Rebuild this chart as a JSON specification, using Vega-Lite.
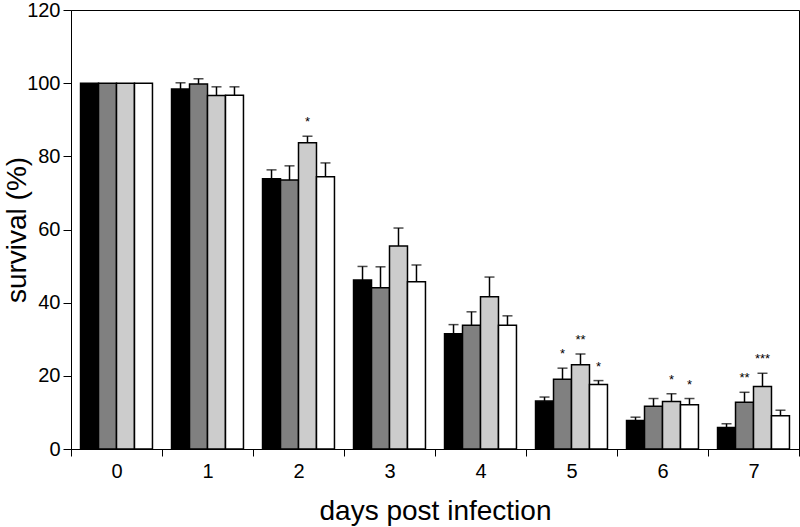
{
  "$schema": "https://vega.github.io/schema/vega-lite/v6.json",
  "width": 728,
  "height": 439,
  "autosize": {"type": "none"},
  "padding": {"left": 71, "top": 10, "right": 1, "bottom": 78},
  "background": "white",
  "config": {
    "view": {"stroke": "black", "strokeWidth": 1},
    "font": "Liberation Sans",
    "axis": {"grid": false, "domainColor": "black", "tickColor": "black", "labelColor": "black", "titleColor": "black", "titleFontWeight": "normal", "labelFont": "Liberation Sans", "titleFont": "Liberation Sans"}
  },
  "data": {
    "values": [
      {"day": "0", "group": "a", "value": 100, "err": 100, "sig": ""},
      {"day": "0", "group": "b", "value": 100, "err": 100, "sig": ""},
      {"day": "0", "group": "c", "value": 100, "err": 100, "sig": ""},
      {"day": "0", "group": "d", "value": 100, "err": 100, "sig": ""},
      {"day": "1", "group": "a", "value": 98.4, "err": 100.1, "sig": ""},
      {"day": "1", "group": "b", "value": 99.8, "err": 101.2, "sig": ""},
      {"day": "1", "group": "c", "value": 96.6, "err": 99.0, "sig": ""},
      {"day": "1", "group": "d", "value": 96.7, "err": 99.0, "sig": ""},
      {"day": "2", "group": "a", "value": 73.9, "err": 76.3, "sig": ""},
      {"day": "2", "group": "b", "value": 73.5, "err": 77.4, "sig": ""},
      {"day": "2", "group": "c", "value": 83.7, "err": 85.5, "sig": "*"},
      {"day": "2", "group": "d", "value": 74.4, "err": 78.2, "sig": ""},
      {"day": "3", "group": "a", "value": 46.2, "err": 49.9, "sig": ""},
      {"day": "3", "group": "b", "value": 44.1, "err": 49.8, "sig": ""},
      {"day": "3", "group": "c", "value": 55.5, "err": 60.4, "sig": ""},
      {"day": "3", "group": "d", "value": 45.7, "err": 50.3, "sig": ""},
      {"day": "4", "group": "a", "value": 31.5, "err": 34.0, "sig": ""},
      {"day": "4", "group": "b", "value": 33.8, "err": 37.5, "sig": ""},
      {"day": "4", "group": "c", "value": 41.6, "err": 47.0, "sig": ""},
      {"day": "4", "group": "d", "value": 33.8, "err": 36.4, "sig": ""},
      {"day": "5", "group": "a", "value": 13.1, "err": 14.2, "sig": ""},
      {"day": "5", "group": "b", "value": 19.1, "err": 22.1, "sig": "*"},
      {"day": "5", "group": "c", "value": 23.0, "err": 26.0, "sig": "**"},
      {"day": "5", "group": "d", "value": 17.6, "err": 18.7, "sig": "*"},
      {"day": "6", "group": "a", "value": 7.8, "err": 8.7, "sig": ""},
      {"day": "6", "group": "b", "value": 11.7, "err": 13.8, "sig": ""},
      {"day": "6", "group": "c", "value": 13.0, "err": 15.1, "sig": "*"},
      {"day": "6", "group": "d", "value": 12.1, "err": 13.8, "sig": "*"},
      {"day": "7", "group": "a", "value": 5.9, "err": 6.9, "sig": ""},
      {"day": "7", "group": "b", "value": 12.8, "err": 15.5, "sig": "**"},
      {"day": "7", "group": "c", "value": 17.1, "err": 20.7, "sig": "***"},
      {"day": "7", "group": "d", "value": 9.1, "err": 10.6, "sig": ""}
    ]
  },
  "encoding": {
    "x": {
      "field": "day", "type": "nominal", "sort": null,
      "scale": {"paddingInner": 0, "paddingOuter": 0},
      "axis": {"title": "days post infection", "labelAngle": 0, "tickBand": "extent", "tickSize": 7, "labelFontSize": 20, "labelPadding": 5, "titleFontSize": 28, "titlePadding": 16}
    },
    "xOffset": {"field": "group", "type": "nominal", "sort": ["a", "b", "c", "d"], "scale": {"paddingInner": 0, "paddingOuter": 0.53}}
  },
  "layer": [
    {
      "mark": {"type": "bar", "stroke": "black", "strokeWidth": 1.5},
      "encoding": {
        "y": {
          "field": "value", "type": "quantitative",
          "scale": {"domain": [0, 120], "nice": false},
          "axis": {"title": "survival (%)", "values": [0, 20, 40, 60, 80, 100, 120], "tickSize": 8, "labelFontSize": 20, "labelPadding": 3, "titleFontSize": 28, "titleX": -46, "titleBaseline": "alphabetic"}
        },
        "fill": {"field": "group", "type": "nominal", "scale": {"domain": ["a", "b", "c", "d"], "range": ["#000000", "#808080", "#cccccc", "#ffffff"]}, "legend": null}
      }
    },
    {
      "transform": [{"filter": "datum.err > datum.value"}],
      "mark": {"type": "rule", "color": "black", "strokeWidth": 1.5},
      "encoding": {
        "y": {"field": "value", "type": "quantitative"},
        "y2": {"field": "err"}
      }
    },
    {
      "transform": [{"filter": "datum.err > datum.value"}],
      "mark": {"type": "tick", "color": "black", "thickness": 1.5, "size": 10},
      "encoding": {
        "y": {"field": "err", "type": "quantitative"}
      }
    },
    {
      "transform": [{"filter": "datum.sig != ''"}],
      "mark": {"type": "text", "fontSize": 13, "dy": -14, "baseline": "middle", "color": "black"},
      "encoding": {
        "y": {"field": "err", "type": "quantitative"},
        "text": {"field": "sig"}
      }
    }
  ]
}
